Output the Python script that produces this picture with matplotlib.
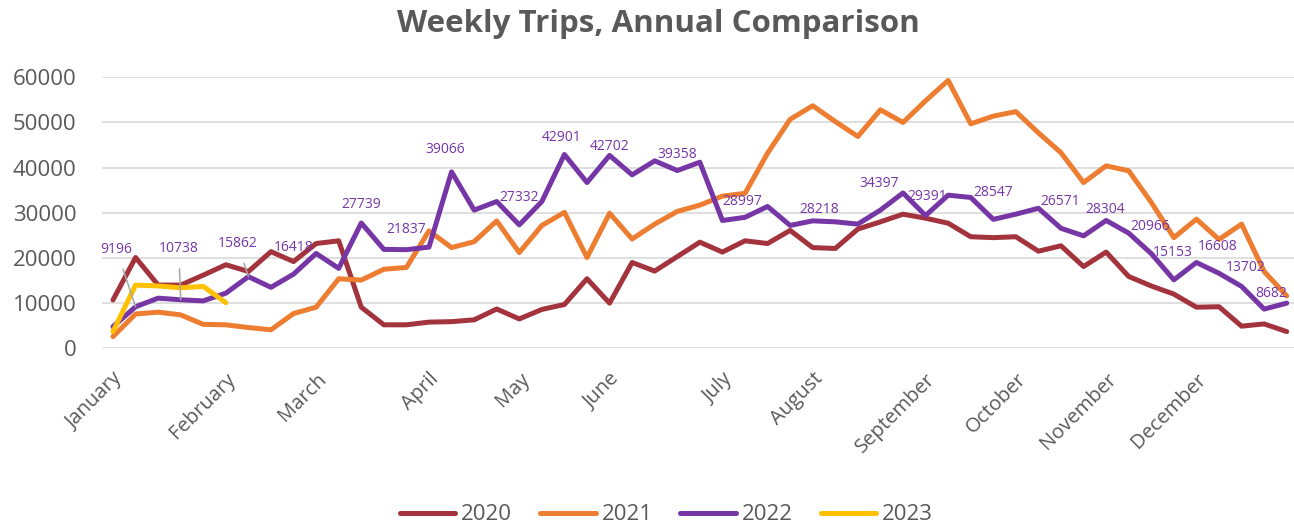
import matplotlib
matplotlib.use("Agg")
import matplotlib.pyplot as plt
import numpy as np

plt.rcParams['font.family'] = ['Open Sans', 'DejaVu Sans']

# weekly trip counts, 53 weeks per year
trips_2020 = [10700, 20100, 14000, 14000, 16200, 18500, 17000, 21400, 19200, 23200,
              23800, 9100, 5200, 5200, 5800, 5900, 6300, 8700, 6500, 8600,
              9700, 15400, 10000, 19000, 17100, 20300, 23500, 21300, 23800, 23200,
              26100, 22300, 22100, 26400, 28000, 29700, 28800, 27700, 24700, 24500,
              24700, 21500, 22700, 18100, 21300, 15900, 13800, 12000, 9100, 9200,
              4900, 5400, 3700]
trips_2021 = [2600, 7600, 8000, 7400, 5300, 5200, 4600, 4100, 7700, 9100,
              15400, 15100, 17500, 17900, 26000, 22300, 23600, 28200, 21200, 27200,
              30100, 20100, 29900, 24200, 27500, 30300, 31700, 33700, 34300, 43200,
              50700, 53700, 50200, 46900, 52800, 50000, 54800, 59300, 49700, 51400,
              52400, 47700, 43300, 36700, 40400, 39300, 32300, 24500, 28600, 24100,
              27500, 17000, 11600]
trips_2022 = [4800, 9196, 11100, 10738, 10500, 12200, 15862, 13500, 16418, 21000,
              17700, 27739, 21900, 21837, 22400, 39066, 30600, 32500, 27332, 32500,
              42901, 36700, 42702, 38400, 41500, 39358, 41200, 28300, 28997, 31400,
              27200, 28218, 28000, 27500, 30600, 34397, 29391, 33900, 33400, 28547,
              29700, 31000, 26571, 24900, 28304, 25500, 20966, 15153, 19000, 16608,
              13702, 8682, 10000]
trips_2023 = [3700, 14000, 13800, 13400, 13700, 10100]

years = ['2020', '2021', '2022', '2023']
colors = ['#A3333D', '#ED7D31', '#7636A6', '#FFC000']

months = ['January', 'February', 'March', 'April', 'May', 'June', 'July',
          'August', 'September', 'October', 'November', 'December']
month_weeks = [0, 5, 9, 14, 18, 22, 27, 31, 36, 40, 44, 48]

# weeks of 2022 that carry a value label
labelled_weeks = [1, 3, 6, 8, 11, 13, 15, 18, 20, 22, 25, 28, 31, 35, 36, 39,
                  42, 44, 46, 47, 49, 50, 51]
# label offsets in pixels (dx, dy) for each labelled week
label_offsets = [(-19, 57), (-2, 51), (-11, 33), (0, 27), (0, 19), (0, 20), (-6, 22),
                 (0, 27), (-3, 17), (0, 9), (0, 16), (-3, 16), (7, 11), (-24, 9),
                 (2, 19), (0, 27), (-1, 27), (-1, 11), (-1, 27), (-1, 27), (-1, 27),
                 (4, 19), (7, 16)]
leader_weeks = [1, 3, 6]

fig = plt.figure(figsize=(12.94, 5.26), dpi=100)
W, H = 1294, 526
ax = fig.add_axes([101.7 / W, (H - 348.3) / H, (1298 - 101.7) / W, (348.3 - 77.3) / H])

series = [trips_2020, trips_2021, trips_2022, trips_2023]
for vals, yr, col in zip(series, years, colors):
    ax.plot(np.arange(len(vals)), vals, color=col, lw=3.6, label=yr,
            solid_capstyle='round', solid_joinstyle='round', zorder=3)

for wk, (dx, dy) in zip(labelled_weeks, label_offsets):
    val = trips_2022[wk]
    if wk in leader_weeks:
        ax.annotate(str(val), xy=(wk, val), xytext=(dx, dy), textcoords='offset pixels',
                    ha='center', va='center', fontsize=10, color='#7636A6', zorder=5,
                    arrowprops=dict(arrowstyle='-', color='#A6A6A6', lw=1.1,
                                    shrinkA=7, shrinkB=0))
    else:
        ax.annotate(str(val), xy=(wk, val), xytext=(dx, dy), textcoords='offset pixels',
                    ha='center', va='center', fontsize=10, color='#7636A6', zorder=5)

ax.set_xlim(-0.5, 52.5)
ax.set_ylim(0, 60000)
ax.set_yticks(range(0, 60001, 10000))
ax.yaxis.grid(True, color='#D9D9D9', lw=1.2)
ax.set_axisbelow(True)
for s in ax.spines.values():
    s.set_visible(False)
ax.tick_params(axis='y', length=0, pad=18, labelsize=16, labelcolor='#595959')
ax.tick_params(axis='x', length=0, pad=15, labelsize=14.5, labelcolor='#595959')
ax.set_xticks(month_weeks)
ax.set_xticklabels(months, rotation=45, ha='right', va='top', rotation_mode='anchor')

fig.text(0.509, 1 - 24 / H, 'Weekly Trips, Annual Comparison', ha='center', va='center',
         fontsize=22.5, fontweight='bold', color='#595959')

fig.legend(loc='center', bbox_to_anchor=(0.515, 1 - 515 / H), ncol=4, frameon=False,
           fontsize=16, labelcolor='#595959', handlelength=2.5, handletextpad=0.27,
           columnspacing=1.25)

fig.savefig('out.png', dpi=100)
